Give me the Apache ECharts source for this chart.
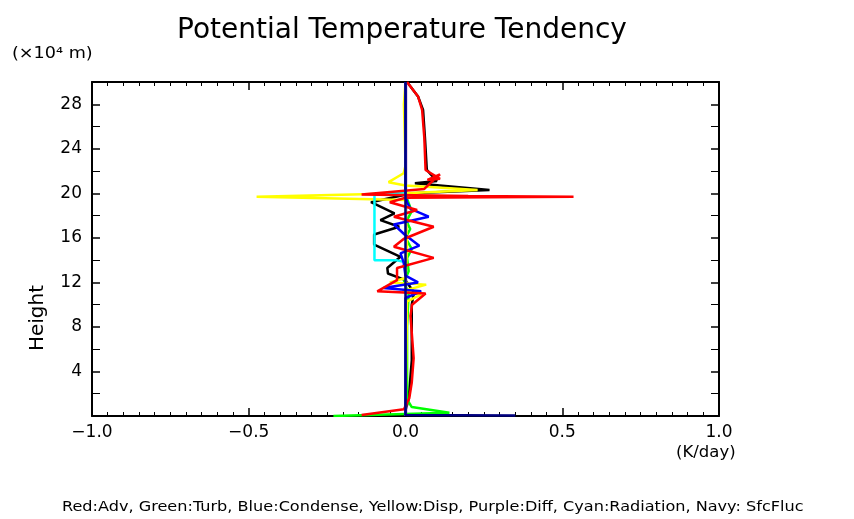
<!DOCTYPE html>
<html><head><meta charset="utf-8">
<script src="https://cdn.jsdelivr.net/npm/echarts@6/dist/echarts.min.js"></script>
<style>html,body{margin:0;background:#fff}#c{width:854px;height:519px}</style>
</head><body><div id="c"></div>
<script>
// [x (K/day), height (x10^4 m)]
const adv = [[0.005,30],[0.04,28.7],[0.053,27.5],[0.06,25],[0.064,22.1],[0.11,21.3],[0.07,21.2],[0.11,21.7],[0.075,20.8],[0.06,20.4],[-0.14,19.9],[0.2,19.75],[0.536,19.7],[0.0,19.6],[-0.05,19.2],[0.037,18.5],[-0.037,17.9],[0.09,17.0],[-0.006,15.9],[-0.037,15.2],[0.09,14.2],[-0.027,13.3],[-0.027,12.2],[-0.09,11.2],[0.064,11.0],[0.021,10.0],[0.016,9.0],[0.026,5.2],[0.02,3],[0.012,1.6],[-0.005,0.6],[-0.14,0.1]];
const turb = [[0,30],[0,20.5],[0.005,19.5],[0.02,18.4],[0.003,17.5],[0.015,16.8],[0,16],[0.02,15],[0.005,14.2],[0.01,13],[-0.005,12],[0.01,11],[0.005,8],[0.005,1.5],[0.02,0.8],[0.14,0.3],[-0.23,0.0]];
const cond = [[0,30],[0,20],[0.005,19.2],[0.016,18.6],[0.074,17.9],[-0.037,17.2],[-0.003,16.3],[0.044,15.3],[-0.016,14.6],[-0.006,13.8],[0.0,12.6],[0.04,12.0],[-0.07,11.5],[0.05,11.2],[0.0,10.6],[0,0]];
const disp = [[0,30],[-0.005,28],[0,22.5],[-0.006,21.8],[-0.054,21.0],[0,20.7],[0.23,20.3],[0,20.0],[-0.475,19.7],[0,19.4],[0.005,15],[0,12.4],[-0.05,12.0],[0.066,11.8],[-0.01,11.2],[0.05,10.9],[0.005,10.3],[0,0]];
const diff = [[0.002,30],[0.002,0]];
const rad = [[0,20.1],[-0.099,19.9],[-0.099,14.0],[-0.03,14.0],[0,13.8]];
const sfc = [[0,30],[0,0.1],[0.35,0.05]];
const adv2 = [[0.005,30],[0.04,28.7],[0.056,27.5],[0.062,25],[0.068,22.1],[0.1,21.1],[0.03,20.9],[0.268,20.3],[0.02,20.0],[-0.11,19.2],[-0.035,18.2],[-0.08,17.6],[-0.02,17.0],[-0.1,16.3],[-0.1,15.4],[-0.016,14.3],[-0.058,13.3],[-0.056,12.8],[0,12.2],[0.027,11.1],[0.02,10.0],[0.02,5],[0.01,1.5],[0,0.5]];
const xTicks=[-1,-0.5,0,0.5,1];

const mk=(d,c,z)=>({type:'line',data:d,showSymbol:false,lineStyle:{color:c,width:2.5},z:z||2,animation:false});
const chart=echarts.init(document.getElementById('c'));
const tick={show:true,inside:true,length:8,lineStyle:{color:'#000',width:1.5}};
const minor={show:true,splitNumber:10,length:4,lineStyle:{color:'#000'}};
const line={onZero:false,lineStyle:{color:'#000',width:2}};
chart.setOption({
 animation:false,
 title:{text:'Potential Temperature Tendency',left:172,top:12,textStyle:{fontFamily:'DejaVu Sans',fontSize:28,fontWeight:'normal',color:'#000'}},
 graphic:[
  {type:'text',left:12,top:46,scaleX:1.1,style:{text:'(×10⁴ m)',font:'16px DejaVu Sans',fill:'#000'}},
  {type:'text',left:676,top:446,scaleX:1.1,style:{text:'(K/day)',font:'15px DejaVu Sans',fill:'#000'}},
  {type:'text',left:28,top:285,rotation:Math.PI/2,style:{text:'Height',font:'20px DejaVu Sans',fill:'#000'}},
  {type:'text',left:62,top:500,scaleX:1.15,style:{text:'Red:Adv, Green:Turb, Blue:Condense, Yellow:Disp, Purple:Diff, Cyan:Radiation, Navy: SfcFluc',font:'14px DejaVu Sans',fill:'#000'}}
 ],
 grid:{left:92,right:135,top:82,bottom:103},
 xAxis:[{type:'value',min:-1,max:1,interval:0.5,axisLine:line,axisTick:tick,minorTick:minor,splitLine:{show:false},
   axisLabel:{color:'#000',fontSize:17,fontFamily:'DejaVu Sans',margin:8,formatter:v=>v.toFixed(1).replace('-','−')}},
  {type:'value',position:'top',min:-1,max:1,interval:0.5,axisLine:line,axisTick:tick,minorTick:minor,axisLabel:{show:false},splitLine:{show:false}}],
 yAxis:[{type:'value',min:0,max:30,interval:4,axisLine:line,axisTick:tick,minorTick:{show:true,splitNumber:2,length:8,lineStyle:{color:'#000'}},splitLine:{show:false},
   axisLabel:{color:'#000',fontSize:17,fontFamily:'DejaVu Sans',margin:10,formatter:v=>(v===0||v===30)?'':String(v)}},
  {type:'value',position:'right',min:0,max:30,interval:4,axisLine:line,axisTick:tick,minorTick:{show:true,splitNumber:2,length:8,lineStyle:{color:'#000'}},axisLabel:{show:false},splitLine:{show:false}}],
 series:[mk(adv2,'#000',2),mk(turb,'#00ff00',3),mk(disp,'#ffff00',3),mk(cond,'#0000ff',4),mk(rad,'#00ffff',3),mk(diff,'#cc88cc',2),mk(adv,'#ff0000',5),mk(sfc,'#000080',6)]
});
</script></body></html>
